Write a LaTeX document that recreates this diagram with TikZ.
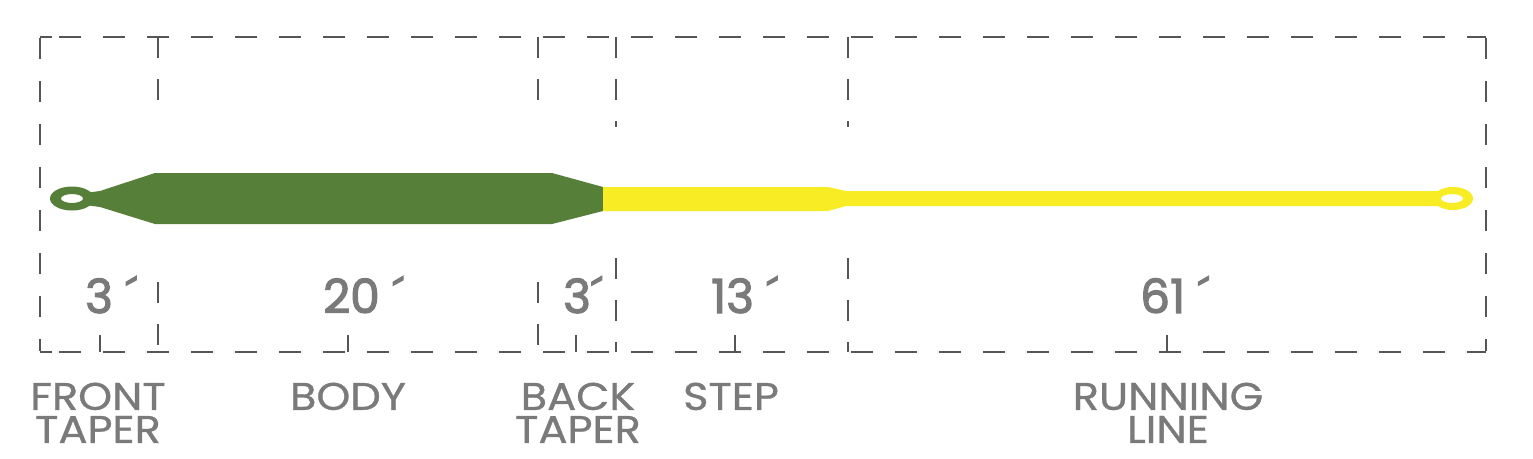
\documentclass[tikz,border=0pt]{standalone}
\usepackage{fontspec}
\setmainfont{Poppins}
\newfontfamily\lenfont{Poppins}[FakeBold=2.5]
\newfontfamily\tagfont{Poppins}[FakeBold=0.8, FakeStretch=1.12]
\usetikzlibrary{positioning}

\definecolor{boxgray}{HTML}{555555}
\definecolor{textgray}{HTML}{7A7A7A}
\definecolor{linegreen}{HTML}{567F3A}
\definecolor{lineyellow}{HTML}{F8EC24}

\begin{document}
\begin{tikzpicture}[
        x=1pt, y=-1pt,
        frame/.style={draw=boxgray, line width=2.6pt, dash pattern=on 22pt off 22pt, dash phase=25pt},
        side/.style={draw=boxgray, line width=2.6pt, dash pattern=on 21pt off 22pt},
        divider/.style={draw=boxgray, line width=2pt, dash pattern=on 21pt off 21pt},
        tick/.style={draw=boxgray, line width=1.8pt},
        len/.style={text=textgray, font=\lenfont\fontsize{47}{47}\selectfont, anchor=base west, inner sep=0pt},
        tag/.style={text=textgray, font=\tagfont\fontsize{38.5}{33}\selectfont, align=center, anchor=north, inner sep=0pt}
    ]
    \useasboundingbox (0,0) rectangle (1533,458);

    % frame
    \coordinate (nw) at (40,37);
    \coordinate (ne) at (1486,37);
    \coordinate (sw) at (40,352);
    \coordinate (se) at (1486,352);
    \draw[frame] (nw) -- (ne);
    \draw[frame] (sw) -- (se);
    \draw[side] ([yshift=-1.3pt]nw) -- ([yshift=1.3pt]sw);
    \draw[side] ([yshift=-1.3pt]ne) -- ([yshift=1.3pt]se);
    \draw[boxgray, line width=2.6pt] (nw) -- ++(12,0) (sw) -- ++(12,0);

    % dividers and ticks
    \foreach \x in {158,538} {
        \draw[divider] (\x,37) -- (\x,100);
        \draw[divider] (\x,282) -- (\x,352);
    }
    \foreach \x in {616,848} {
        \draw[divider] (\x,37) -- (\x,127);
        \draw[divider] (\x,258) -- (\x,352);
    }
    \foreach \x in {100,348,576,735,1167}
        \draw[tick] (\x,335) -- (\x,352);

    % fly line
    \fill[linegreen] (85,193) -- (100,191) -- (155,173) -- (552,173) -- (603,187)
        -- (603,211) -- (552,224) -- (155,224) -- (100,207) -- (85,205) -- cycle;
    \fill[linegreen, even odd rule] (72,198.5) ellipse [x radius=22pt, y radius=12pt]
        (72,198.5) ellipse [x radius=11pt, y radius=4.5pt];
    \fill[lineyellow] (603,187) -- (828,187) -- (846,191) -- (1438,191)
        -- (1438,206) -- (846,206) -- (828,211) -- (603,211) -- cycle;
    \fill[lineyellow, even odd rule] (1453,198.5) ellipse [x radius=20pt, y radius=11.5pt]
        (1452,198.5) ellipse [x radius=11pt, y radius=4.5pt];

    % lengths
    \node[len] (lenfront) at (85,313) {3 ´};
    \node[len] (lenbody) at (323,313) {20 ´};
    \node[len] (lenback) at (563,313) {3´};
    \node[len] (lenstep) at (711,313) {13 ´};
    \node[len] (lenrun) at (1140,313) {61 ´};

    % sections
    \node[tag] (front) at (98,382.5) {FRONT\\TAPER};
    \node[tag] (body) at (348,382.5) {BODY};
    \node[tag] (back) at (578,382.5) {BACK\\TAPER};
    \node[tag] (step) at (731,382.5) {STEP};
    \node[tag] (running) at (1168,382.5) {RUNNING\\LINE};

\end{tikzpicture}
\end{document}
